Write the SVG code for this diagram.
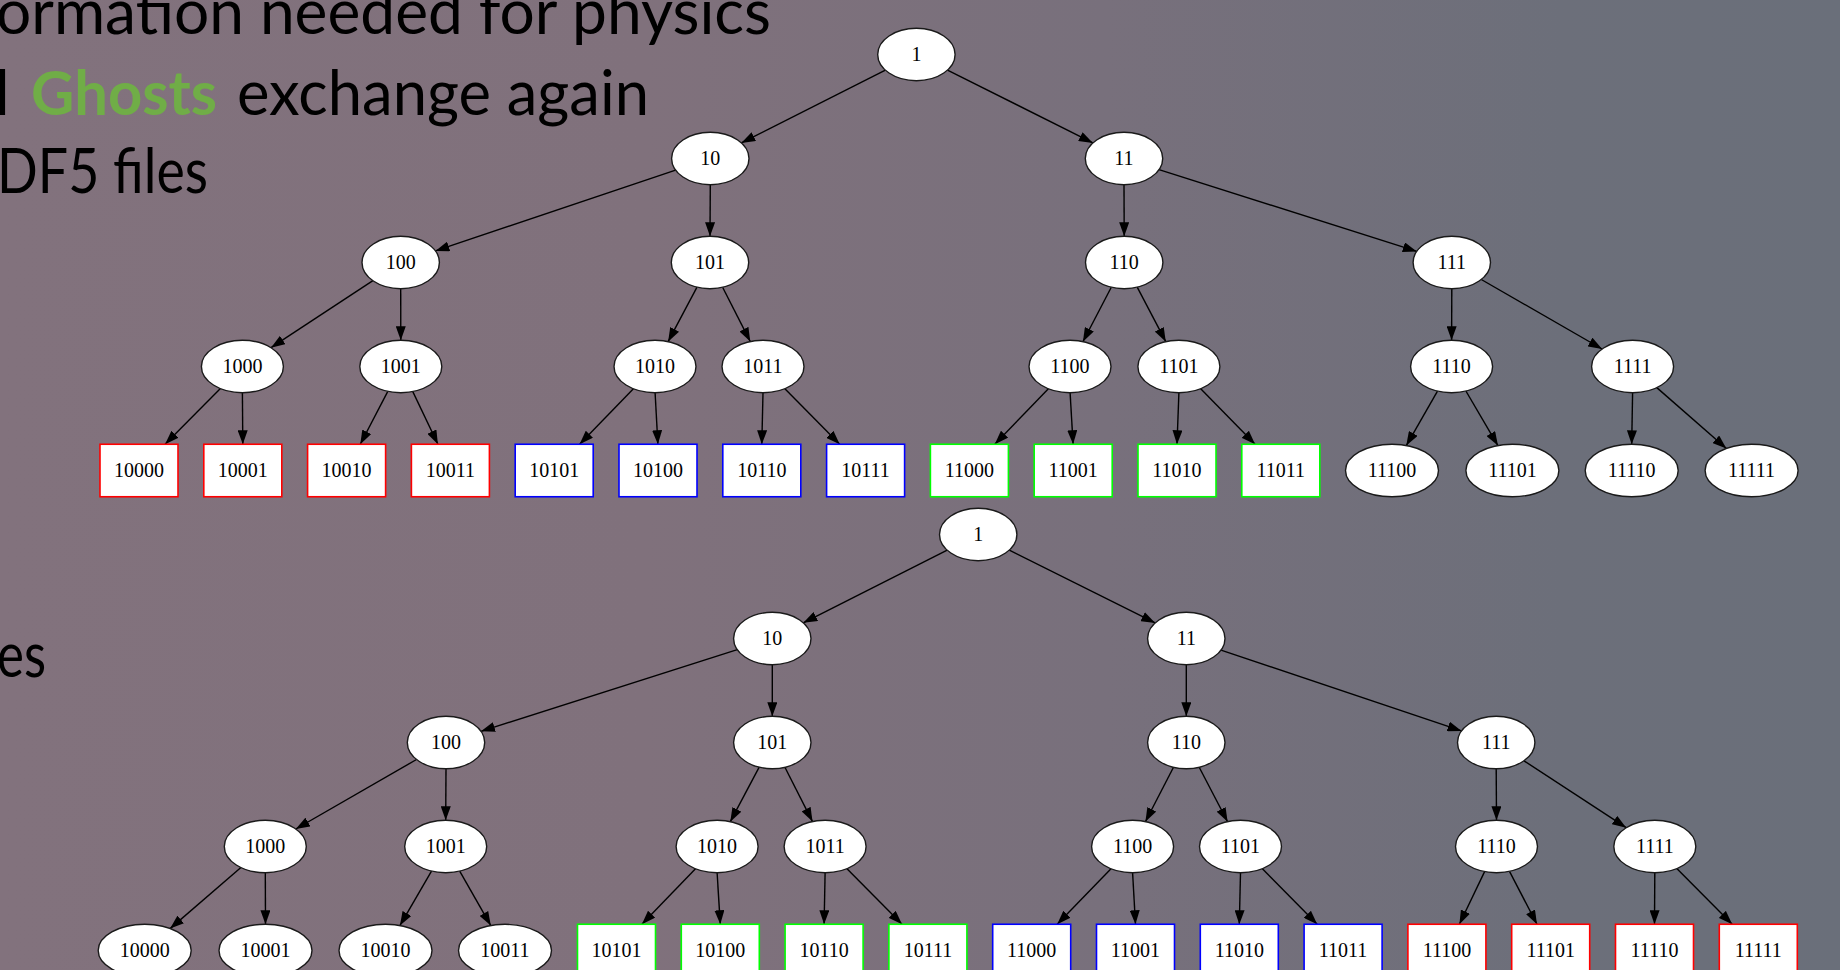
<svg xmlns="http://www.w3.org/2000/svg" width="1840" height="970" viewBox="0 0 1840 970">
<defs>
<linearGradient id="bg" x1="0" y1="0" x2="1840" y2="0" gradientUnits="userSpaceOnUse">
<stop offset="0" stop-color="#82727D"/>
<stop offset="0.35" stop-color="#80717C"/>
<stop offset="0.6" stop-color="#78707C"/>
<stop offset="0.85" stop-color="#6C6F7A"/>
<stop offset="1" stop-color="#6A6F7A"/>
</linearGradient>
<marker id="arr" markerUnits="userSpaceOnUse" viewBox="0 0 14 10" refX="14" refY="5" markerWidth="14" markerHeight="10" orient="auto">
<path d="M0,0 L14,5 L0,10 Z" fill="#000"/>
</marker>
<style>
.slide{font-family:Lato,"Open Sans","Liberation Sans",sans-serif;font-size:62px;fill:#000}
.e line{stroke:#000;stroke-width:1.4;marker-end:url(#arr)}
.n ellipse{fill:#fff;stroke:#1a1a1a;stroke-width:1.4}
.n rect{fill:#fff;stroke-width:1.6}
.n text{font-family:"Liberation Serif","Times New Roman",serif;font-size:20px;fill:#000;text-anchor:middle}
.red rect{stroke:#FF0000}
.blue rect{stroke:#0000FF}
.green rect{stroke:#00FF00}
</style>
</defs>
<rect x="0" y="0" width="1840" height="970" fill="url(#bg)"/>

<g id="slide-text">
<text class="slide" x="-4" y="34" textLength="775" lengthAdjust="spacingAndGlyphs">ormation needed for physics</text>
<text class="slide" x="-5" y="115">l</text>
<text class="slide" x="31" y="115" font-weight="bold" fill="#70AD47" style="fill:#70AD47" textLength="186" lengthAdjust="spacingAndGlyphs">Ghosts</text>
<text class="slide" x="237" y="115" textLength="412" lengthAdjust="spacingAndGlyphs">exchange again</text>
<text class="slide" x="-3" y="193" textLength="211" lengthAdjust="spacingAndGlyphs">DF5 files</text>
<text class="slide" x="-3" y="677" textLength="49" lengthAdjust="spacingAndGlyphs">es</text>
</g>

<!-- ===== TOP TREE ===== -->
<g id="top-edges" class="e">
<line x1="885.4" y1="70.2" x2="741.3" y2="142.9"/>
<line x1="947.5" y1="70.1" x2="1092.9" y2="142.9"/>
<line x1="675.6" y1="170.1" x2="435.4" y2="250.9"/>
<line x1="710.3" y1="184.7" x2="710" y2="236.3"/>
<line x1="1124" y1="184.7" x2="1124.2" y2="236.3"/>
<line x1="1159" y1="169.6" x2="1416.8" y2="251.4"/>
<line x1="372.9" y1="280.7" x2="271" y2="347.7"/>
<line x1="400.7" y1="288.7" x2="400.8" y2="340.3"/>
<line x1="697" y1="287.2" x2="668.1" y2="341.7"/>
<line x1="722.6" y1="287.3" x2="750.3" y2="341.6"/>
<line x1="1111.3" y1="287.2" x2="1082.9" y2="341.7"/>
<line x1="1137.2" y1="287.2" x2="1165.8" y2="341.7"/>
<line x1="1451.8" y1="288.7" x2="1451.6" y2="340.3"/>
<line x1="1481.3" y1="279.5" x2="1602.1" y2="349"/>
<line x1="220.4" y1="388.6" x2="165.1" y2="444.25"/>
<line x1="242.4" y1="392.7" x2="242.8" y2="444.25"/>
<line x1="387.8" y1="391.4" x2="360.3" y2="444.25"/>
<line x1="412.8" y1="391.6" x2="437.9" y2="444.25"/>
<line x1="633.4" y1="388.8" x2="579.6" y2="444.25"/>
<line x1="655.1" y1="392.7" x2="657.9" y2="444.25"/>
<line x1="763" y1="392.7" x2="761.8" y2="444.25"/>
<line x1="784.9" y1="388.7" x2="839.7" y2="444.25"/>
<line x1="1048.4" y1="388.8" x2="994.8" y2="444.25"/>
<line x1="1070.1" y1="392.7" x2="1073.1" y2="444.25"/>
<line x1="1178.9" y1="392.7" x2="1177" y2="444.25"/>
<line x1="1200.7" y1="388.7" x2="1255.1" y2="444.25"/>
<line x1="1437.5" y1="391.1" x2="1406.3" y2="445.6"/>
<line x1="1465.9" y1="391" x2="1497.9" y2="445.6"/>
<line x1="1632.6" y1="392.7" x2="1631.7" y2="444.3"/>
<line x1="1656.8" y1="387.6" x2="1726.4" y2="448.5"/>
</g>

<g id="t1-n1" class="n"><ellipse cx="916.4" cy="54.5" rx="38.7" ry="26.2"/><text x="916.4" y="61">1</text></g>
<g id="t1-n10" class="n"><ellipse cx="710.3" cy="158.5" rx="38.7" ry="26.2"/><text x="710.3" y="165">10</text></g>
<g id="t1-n11" class="n"><ellipse cx="1124" cy="158.5" rx="38.7" ry="26.2"/><text x="1124" y="165">11</text></g>
<g id="t1-n100" class="n"><ellipse cx="400.7" cy="262.5" rx="38.7" ry="26.2"/><text x="400.7" y="269">100</text></g>
<g id="t1-n101" class="n"><ellipse cx="710" cy="262.5" rx="38.7" ry="26.2"/><text x="710" y="269">101</text></g>
<g id="t1-n110" class="n"><ellipse cx="1124.2" cy="262.5" rx="38.7" ry="26.2"/><text x="1124.2" y="269">110</text></g>
<g id="t1-n111" class="n"><ellipse cx="1451.8" cy="262.5" rx="38.7" ry="26.2"/><text x="1451.8" y="269">111</text></g>
<g id="t1-n1000" class="n"><ellipse cx="242.4" cy="366.5" rx="41" ry="26.2"/><text x="242.4" y="373">1000</text></g>
<g id="t1-n1001" class="n"><ellipse cx="400.8" cy="366.5" rx="41" ry="26.2"/><text x="400.8" y="373">1001</text></g>
<g id="t1-n1010" class="n"><ellipse cx="655" cy="366.5" rx="41" ry="26.2"/><text x="655" y="373">1010</text></g>
<g id="t1-n1011" class="n"><ellipse cx="763" cy="366.5" rx="41" ry="26.2"/><text x="763" y="373">1011</text></g>
<g id="t1-n1100" class="n"><ellipse cx="1070" cy="366.5" rx="41" ry="26.2"/><text x="1070" y="373">1100</text></g>
<g id="t1-n1101" class="n"><ellipse cx="1178.9" cy="366.5" rx="41" ry="26.2"/><text x="1178.9" y="373">1101</text></g>
<g id="t1-n1110" class="n"><ellipse cx="1451.6" cy="366.5" rx="41" ry="26.2"/><text x="1451.6" y="373">1110</text></g>
<g id="t1-n1111" class="n"><ellipse cx="1632.6" cy="366.5" rx="41" ry="26.2"/><text x="1632.6" y="373">1111</text></g>

<g id="t1-n10000" class="n red"><rect x="100" y="444.25" width="78" height="52.5"/><text x="139" y="477">10000</text></g>
<g id="t1-n10001" class="n red"><rect x="203.8" y="444.25" width="78" height="52.5"/><text x="242.8" y="477">10001</text></g>
<g id="t1-n10010" class="n red"><rect x="307.6" y="444.25" width="78" height="52.5"/><text x="346.6" y="477">10010</text></g>
<g id="t1-n10011" class="n red"><rect x="411.4" y="444.25" width="78" height="52.5"/><text x="450.4" y="477">10011</text></g>
<g id="t1-n10101" class="n blue"><rect x="515.2" y="444.25" width="78" height="52.5"/><text x="554.2" y="477">10101</text></g>
<g id="t1-n10100" class="n blue"><rect x="619" y="444.25" width="78" height="52.5"/><text x="658" y="477">10100</text></g>
<g id="t1-n10110" class="n blue"><rect x="722.8" y="444.25" width="78" height="52.5"/><text x="761.8" y="477">10110</text></g>
<g id="t1-n10111" class="n blue"><rect x="826.6" y="444.25" width="78" height="52.5"/><text x="865.6" y="477">10111</text></g>
<g id="t1-n11000" class="n green"><rect x="930.4" y="444.25" width="78" height="52.5"/><text x="969.4" y="477">11000</text></g>
<g id="t1-n11001" class="n green"><rect x="1034.2" y="444.25" width="78" height="52.5"/><text x="1073.2" y="477">11001</text></g>
<g id="t1-n11010" class="n green"><rect x="1138" y="444.25" width="78" height="52.5"/><text x="1177" y="477">11010</text></g>
<g id="t1-n11011" class="n green"><rect x="1241.8" y="444.25" width="78" height="52.5"/><text x="1280.8" y="477">11011</text></g>
<g id="t1-n11100" class="n"><ellipse cx="1392" cy="470.5" rx="46.5" ry="26.2"/><text x="1392" y="477">11100</text></g>
<g id="t1-n11101" class="n"><ellipse cx="1512.4" cy="470.5" rx="46.5" ry="26.2"/><text x="1512.4" y="477">11101</text></g>
<g id="t1-n11110" class="n"><ellipse cx="1631.7" cy="470.5" rx="46.5" ry="26.2"/><text x="1631.7" y="477">11110</text></g>
<g id="t1-n11111" class="n"><ellipse cx="1751.6" cy="470.5" rx="46.5" ry="26.2"/><text x="1751.6" y="477">11111</text></g>

<!-- ===== BOTTOM TREE ===== -->
<g id="bottom-edges" class="e">
<line x1="947.2" y1="550.2" x2="803.3" y2="622.8"/>
<line x1="1009.3" y1="550.1" x2="1155.2" y2="622.9"/>
<line x1="737.3" y1="649.7" x2="481" y2="731.3"/>
<line x1="772.3" y1="664.7" x2="772.3" y2="716.3"/>
<line x1="1186.3" y1="664.7" x2="1186.3" y2="716.3"/>
<line x1="1221" y1="650.1" x2="1461.5" y2="730.9"/>
<line x1="416.5" y1="759.5" x2="295.8" y2="829"/>
<line x1="446" y1="768.7" x2="445.7" y2="820.3"/>
<line x1="759.2" y1="767.2" x2="730.3" y2="821.7"/>
<line x1="784.9" y1="767.3" x2="812.5" y2="821.6"/>
<line x1="1173.5" y1="767.2" x2="1145.4" y2="821.7"/>
<line x1="1199.2" y1="767.2" x2="1227.6" y2="821.7"/>
<line x1="1496.2" y1="768.7" x2="1496.5" y2="820.3"/>
<line x1="1524" y1="760.8" x2="1626.2" y2="827.7"/>
<line x1="240.9" y1="867.5" x2="170.1" y2="928.6"/>
<line x1="265.3" y1="872.7" x2="265.5" y2="924.3"/>
<line x1="431.5" y1="871.1" x2="399.9" y2="925.6"/>
<line x1="459.7" y1="871.1" x2="490.8" y2="925.6"/>
<line x1="695.5" y1="868.8" x2="641.9" y2="924.25"/>
<line x1="717.1" y1="872.7" x2="720.3" y2="924.25"/>
<line x1="825.1" y1="872.7" x2="824.1" y2="924.25"/>
<line x1="847" y1="868.7" x2="902" y2="924.25"/>
<line x1="1111" y1="868.8" x2="1057.2" y2="924.25"/>
<line x1="1132.6" y1="872.7" x2="1135.5" y2="924.25"/>
<line x1="1240.5" y1="872.7" x2="1239.3" y2="924.25"/>
<line x1="1262.4" y1="868.7" x2="1317.2" y2="924.25"/>
<line x1="1484.6" y1="871.6" x2="1459.4" y2="924.25"/>
<line x1="1509.5" y1="871.4" x2="1537" y2="924.25"/>
<line x1="1654.8" y1="872.7" x2="1654.5" y2="924.25"/>
<line x1="1676.8" y1="868.6" x2="1732.2" y2="924.25"/>
</g>

<g id="t2-n1" class="n"><ellipse cx="978.2" cy="534.5" rx="38.7" ry="26.2"/><text x="978.2" y="541">1</text></g>
<g id="t2-n10" class="n"><ellipse cx="772.3" cy="638.5" rx="38.7" ry="26.2"/><text x="772.3" y="645">10</text></g>
<g id="t2-n11" class="n"><ellipse cx="1186.3" cy="638.5" rx="38.7" ry="26.2"/><text x="1186.3" y="645">11</text></g>
<g id="t2-n100" class="n"><ellipse cx="446" cy="742.5" rx="38.7" ry="26.2"/><text x="446" y="749">100</text></g>
<g id="t2-n101" class="n"><ellipse cx="772.3" cy="742.5" rx="38.7" ry="26.2"/><text x="772.3" y="749">101</text></g>
<g id="t2-n110" class="n"><ellipse cx="1186.3" cy="742.5" rx="38.7" ry="26.2"/><text x="1186.3" y="749">110</text></g>
<g id="t2-n111" class="n"><ellipse cx="1496.2" cy="742.5" rx="38.7" ry="26.2"/><text x="1496.2" y="749">111</text></g>
<g id="t2-n1000" class="n"><ellipse cx="265.3" cy="846.5" rx="41" ry="26.2"/><text x="265.3" y="853">1000</text></g>
<g id="t2-n1001" class="n"><ellipse cx="445.7" cy="846.5" rx="41" ry="26.2"/><text x="445.7" y="853">1001</text></g>
<g id="t2-n1010" class="n"><ellipse cx="717.1" cy="846.5" rx="41" ry="26.2"/><text x="717.1" y="853">1010</text></g>
<g id="t2-n1011" class="n"><ellipse cx="825.1" cy="846.5" rx="41" ry="26.2"/><text x="825.1" y="853">1011</text></g>
<g id="t2-n1100" class="n"><ellipse cx="1132.6" cy="846.5" rx="41" ry="26.2"/><text x="1132.6" y="853">1100</text></g>
<g id="t2-n1101" class="n"><ellipse cx="1240.5" cy="846.5" rx="41" ry="26.2"/><text x="1240.5" y="853">1101</text></g>
<g id="t2-n1110" class="n"><ellipse cx="1496.5" cy="846.5" rx="41" ry="26.2"/><text x="1496.5" y="853">1110</text></g>
<g id="t2-n1111" class="n"><ellipse cx="1654.8" cy="846.5" rx="41" ry="26.2"/><text x="1654.8" y="853">1111</text></g>

<g id="t2-n10000" class="n"><ellipse cx="144.7" cy="950.5" rx="46.5" ry="26.2"/><text x="144.7" y="957">10000</text></g>
<g id="t2-n10001" class="n"><ellipse cx="265.5" cy="950.5" rx="46.5" ry="26.2"/><text x="265.5" y="957">10001</text></g>
<g id="t2-n10010" class="n"><ellipse cx="385.5" cy="950.5" rx="46.5" ry="26.2"/><text x="385.5" y="957">10010</text></g>
<g id="t2-n10011" class="n"><ellipse cx="505" cy="950.5" rx="46.5" ry="26.2"/><text x="505" y="957">10011</text></g>
<g id="t2-n10101" class="n green"><rect x="577.5" y="924.25" width="78" height="52.5"/><text x="616.5" y="957">10101</text></g>
<g id="t2-n10100" class="n green"><rect x="681.3" y="924.25" width="78" height="52.5"/><text x="720.3" y="957">10100</text></g>
<g id="t2-n10110" class="n green"><rect x="785.1" y="924.25" width="78" height="52.5"/><text x="824.1" y="957">10110</text></g>
<g id="t2-n10111" class="n green"><rect x="888.9" y="924.25" width="78" height="52.5"/><text x="927.9" y="957">10111</text></g>
<g id="t2-n11000" class="n blue"><rect x="992.7" y="924.25" width="78" height="52.5"/><text x="1031.7" y="957">11000</text></g>
<g id="t2-n11001" class="n blue"><rect x="1096.5" y="924.25" width="78" height="52.5"/><text x="1135.5" y="957">11001</text></g>
<g id="t2-n11010" class="n blue"><rect x="1200.3" y="924.25" width="78" height="52.5"/><text x="1239.3" y="957">11010</text></g>
<g id="t2-n11011" class="n blue"><rect x="1304.1" y="924.25" width="78" height="52.5"/><text x="1343.1" y="957">11011</text></g>
<g id="t2-n11100" class="n red"><rect x="1407.9" y="924.25" width="78" height="52.5"/><text x="1446.9" y="957">11100</text></g>
<g id="t2-n11101" class="n red"><rect x="1511.7" y="924.25" width="78" height="52.5"/><text x="1550.7" y="957">11101</text></g>
<g id="t2-n11110" class="n red"><rect x="1615.5" y="924.25" width="78" height="52.5"/><text x="1654.5" y="957">11110</text></g>
<g id="t2-n11111" class="n red"><rect x="1719.3" y="924.25" width="78" height="52.5"/><text x="1758.3" y="957">11111</text></g>
</svg>
